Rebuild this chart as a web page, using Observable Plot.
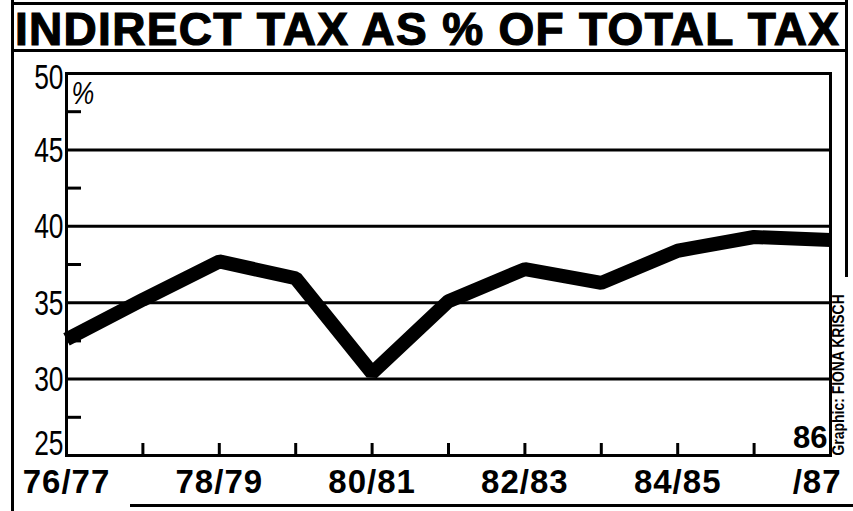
<!DOCTYPE html>
<html>
<head>
<meta charset="utf-8">
<script src="https://cdn.jsdelivr.net/npm/d3@7"></script>
<script src="https://cdn.jsdelivr.net/npm/@observablehq/plot@0.6"></script>
<style>
  html, body { margin: 0; padding: 0; background: #fff; }
  #wrap { position: relative; width: 853px; height: 511px; overflow: hidden; background: #fff; }
  .rule { position: absolute; background: #000; }
  #title { position: absolute; left: 15px; top: 4px; width: 832px; height: 46px;
           font-family: "Liberation Sans", Arial, sans-serif; font-weight: bold; font-size: 46px;
           line-height: 50px; color: #000; white-space: nowrap; letter-spacing: 1.3px;
           -webkit-text-stroke: 1.2px #000; }
  #chart { position: absolute; left: 0; top: 52px; }
  g[aria-label="x-axis tick label"] text { letter-spacing: 1px; }
</style>
</head>
<body>
<div id="wrap">
  <div class="rule" style="left:11px;top:0;width:3px;height:511px"></div>
  <div class="rule" style="left:11px;top:2px;width:837px;height:3px"></div>
  <div class="rule" style="left:11px;top:49px;width:837px;height:3px"></div>
  <div class="rule" style="left:845px;top:0;width:3px;height:277px"></div>
  <div class="rule" style="left:130px;top:504px;width:723px;height:3px"></div>
  <div id="title"></div>
  <div id="chart"></div>
</div>
<script>
const titleText = "INDIRECT TAX AS % OF TOTAL TAX";
const years = ["76/77","77/78","78/79","79/80","80/81","81/82","82/83","83/84","84/85","85/86","86/87"];
const values = [32.6, 35.2, 37.7, 36.6, 30.4, 35.1, 37.2, 36.3, 38.4, 39.3, 39.1];
const yTicksMid = [30, 35, 40, 45];
const yTickTop = [50];
const yTickBottom = [25];
const gridLines = [30, 35, 40, 45];
const minorTicks = [27.5, 32.5, 37.5, 42.5, 47.5];
const xLabelIdx = [0, 2, 4, 6, 8];
const xTickIdx = [1, 2, 3, 4, 5, 6, 7, 8, 9];
const lastTop = "86";
const lastBottom = "/87";
const unitLabel = "%";
const credit = "Graphic: FIONA KRISCH";

document.getElementById("title").textContent = titleText;

const data = years.map((y, i) => ({i, year: y, value: values[i]}));
const regular = "'Liberation Sans', Arial, sans-serif";
const bold = "'Liberation Sans', Arial, sans-serif";

const yLabelOpts = {anchor: "left", tickSize: 0, tickPadding: 3, fontSize: 33, fontFamily: regular, label: null};

const chart = Plot.plot({
  width: 853,
  height: 459,
  marginTop: 21,
  marginBottom: 56,
  marginLeft: 66,
  marginRight: 23,
  x: {domain: [0, 10], axis: null},
  y: {domain: [25, 50], axis: null},
  style: {background: "transparent", color: "#000", overflow: "visible"},
  marks: [
    Plot.ruleY(gridLines, {stroke: "#000", strokeWidth: 3}),
    Plot.frame({stroke: "#000", strokeWidth: 3}),
    Plot.axisY(minorTicks, {anchor: "left", tickSize: -15, tickFormat: () => "", strokeWidth: 3, label: null}),
    Plot.axisX(xTickIdx, {anchor: "bottom", tickSize: -12, tickFormat: () => "", strokeWidth: 3, label: null}),
    Plot.axisY(yTicksMid, {...yLabelOpts, dy: 1}),
    Plot.axisY(yTickTop, {...yLabelOpts, dy: 4}),
    Plot.axisY(yTickBottom, {...yLabelOpts, dy: -12}),
    Plot.axisX(xLabelIdx, {anchor: "bottom", tickSize: 0, tickPadding: 14, tickFormat: i => years[i],
      fontSize: 33, fontWeight: "bold", fontFamily: bold, label: null}),
    Plot.text([10], {x: d => d, text: () => lastBottom, frameAnchor: "bottom", lineAnchor: "top",
      textAnchor: "end", dx: 11, dy: 14, fontSize: 33, fontWeight: "bold", fontFamily: bold}),
    Plot.text([10], {x: d => d, text: () => lastTop, frameAnchor: "bottom", lineAnchor: "bottom",
      textAnchor: "end", dx: -3, dy: -8, fontSize: 31, fontWeight: "bold", fontFamily: bold}),
    Plot.text([unitLabel], {frameAnchor: "top-left", lineAnchor: "top", textAnchor: "start",
      dx: 5, dy: 8, fontSize: 32, fontStyle: "italic", fontFamily: regular}),
    Plot.text([credit], {frameAnchor: "bottom-right", rotate: -90, textAnchor: "start",
      dx: 13, dy: 0, fontSize: 17, fontWeight: "bold", fontFamily: regular}),
    Plot.line(data, {x: "i", y: "value", stroke: "#000", strokeWidth: 14,
      strokeLinejoin: "miter", strokeLinecap: "butt"})
  ]
});
document.getElementById("chart").appendChild(chart);

// condense the narrow-typeface labels (no narrow font is installed)
d3.select(chart).selectAll('g[aria-label="y-axis tick label"] text').each(function() {
  const t = this.getAttribute("transform") || "";
  this.setAttribute("transform", t + " scale(0.8,1.05)");
});
d3.select(chart).selectAll('g[aria-label="text"] text').each(function() {
  const s = this.textContent;
  const t = this.getAttribute("transform") || "";
  if (s === credit) this.setAttribute("transform", t + " scale(0.82,1)");
  if (s === unitLabel) this.setAttribute("transform", t + " scale(0.8,1)");
  if (s === lastBottom) this.style.letterSpacing = "1px";
});
</script>
</body>
</html>
